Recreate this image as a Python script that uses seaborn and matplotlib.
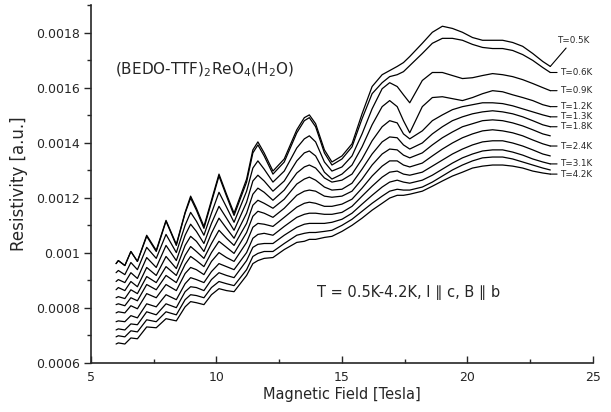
import matplotlib
matplotlib.use('Agg')
import matplotlib.pyplot as plt
import seaborn as sns
import pandas as pd
from matplotlib.ticker import FuncFormatter, MultipleLocator

# Magnetic field [Tesla] at which the curves were read
field = [6.0, 6.09, 6.35, 6.59, 6.85, 7.22, 7.6, 7.99, 8.4, 8.75, 8.97, 9.2, 9.5, 9.8, 10.1, 10.4, 10.7,
         11.2, 11.45, 11.65, 11.9, 12.25, 12.7, 13.2, 13.5, 13.7, 13.95, 14.3, 14.6,
         15.0, 15.4, 15.8, 16.2, 16.6, 16.9, 17.2, 17.45, 17.7, 18.2, 18.6, 19.0, 19.4, 19.8,
         20.2, 20.6, 21.0, 21.4, 21.8, 22.2, 22.6, 23.0, 23.3]

# Resistivity in units of 1e-6 a.u., one list per temperature (top to bottom)
rho_05 = [961, 972, 954, 1005, 969, 1064, 1009, 1118, 1031, 1147, 1206, 1162, 1096, 1191, 1286, 1213, 1144,
          1268, 1374, 1403, 1363, 1297, 1341, 1447, 1491, 1501, 1469, 1374, 1330,
          1352, 1396, 1505, 1604, 1647, 1662, 1677, 1691, 1713, 1761, 1801, 1823, 1815, 1801,
          1782, 1772, 1772, 1772, 1764, 1750, 1724, 1695, 1677]
rho_06 = [961, 972, 954, 1005, 969, 1060, 1005, 1115, 1027, 1144, 1199, 1155, 1089, 1184, 1279, 1206, 1136,
          1257, 1363, 1392, 1352, 1286, 1330, 1436, 1480, 1491, 1458, 1363, 1319,
          1341, 1385, 1487, 1578, 1618, 1640, 1647, 1658, 1680, 1724, 1761, 1779, 1779, 1772,
          1757, 1746, 1742, 1742, 1735, 1720, 1699, 1673, 1655]
rho_09 = [928, 936, 921, 965, 939, 1020, 980, 1067, 1001, 1100, 1147, 1115, 1064, 1144, 1220, 1166, 1111,
          1224, 1308, 1334, 1304, 1257, 1297, 1381, 1414, 1425, 1403, 1330, 1297,
          1312, 1352, 1432, 1523, 1596, 1618, 1604, 1574, 1545, 1626, 1655, 1655, 1644, 1633,
          1636, 1644, 1651, 1647, 1640, 1629, 1615, 1600, 1589]
rho_12 = [896, 903, 892, 928, 907, 983, 947, 1027, 972, 1064, 1104, 1078, 1034, 1107, 1169, 1126, 1082,
          1184, 1261, 1282, 1261, 1224, 1261, 1334, 1363, 1370, 1352, 1293, 1268,
          1286, 1319, 1385, 1465, 1531, 1553, 1531, 1480, 1436, 1531, 1564, 1567, 1560, 1553,
          1564, 1578, 1589, 1585, 1574, 1564, 1553, 1538, 1531]
rho_13 = [866, 874, 863, 896, 877, 947, 918, 987, 943, 1027, 1060, 1042, 1005, 1071, 1126, 1089, 1053,
          1144, 1213, 1235, 1220, 1191, 1228, 1290, 1312, 1319, 1308, 1272, 1257,
          1264, 1286, 1341, 1407, 1458, 1480, 1472, 1432, 1414, 1443, 1480, 1501, 1520, 1531,
          1538, 1545, 1545, 1542, 1534, 1523, 1512, 1501, 1494]
rho_18 = [837, 841, 834, 866, 852, 914, 892, 950, 918, 991, 1023, 1005, 980, 1034, 1082, 1053, 1027,
          1107, 1173, 1191, 1180, 1162, 1195, 1250, 1268, 1275, 1264, 1239, 1228,
          1231, 1253, 1304, 1359, 1403, 1421, 1418, 1392, 1377, 1399, 1432, 1458, 1480, 1494,
          1505, 1512, 1516, 1512, 1505, 1494, 1480, 1465, 1458]
rho_x1 = [812, 815, 808, 837, 826, 885, 866, 918, 892, 958, 987, 972, 950, 1001, 1042, 1020, 998,
          1074, 1133, 1151, 1144, 1129, 1162, 1209, 1224, 1228, 1224, 1206, 1202,
          1206, 1224, 1268, 1319, 1359, 1377, 1374, 1355, 1345, 1363, 1392, 1418, 1439, 1458,
          1469, 1480, 1483, 1480, 1472, 1461, 1447, 1432, 1425]
rho_24 = [782, 786, 782, 808, 797, 852, 837, 885, 863, 925, 947, 939, 921, 969, 1001, 983, 969,
          1038, 1093, 1107, 1104, 1096, 1129, 1166, 1180, 1184, 1180, 1169, 1169,
          1177, 1195, 1235, 1279, 1315, 1334, 1334, 1319, 1312, 1326, 1352, 1377, 1399, 1418,
          1432, 1443, 1447, 1443, 1436, 1425, 1410, 1396, 1388]
rho_x2 = [750, 753, 750, 772, 764, 815, 804, 848, 830, 888, 910, 903, 892, 932, 961, 950, 939,
          1001, 1053, 1067, 1071, 1064, 1096, 1129, 1140, 1144, 1144, 1140, 1140,
          1147, 1169, 1206, 1242, 1275, 1293, 1297, 1286, 1282, 1293, 1315, 1337, 1359, 1377,
          1392, 1403, 1407, 1407, 1399, 1388, 1374, 1359, 1352]
rho_31 = [720, 724, 720, 742, 739, 786, 775, 815, 801, 859, 877, 874, 863, 903, 928, 918, 910,
          972, 1020, 1031, 1034, 1034, 1064, 1093, 1104, 1107, 1107, 1107, 1111,
          1122, 1144, 1177, 1209, 1239, 1257, 1264, 1257, 1253, 1264, 1282, 1304, 1326, 1345,
          1359, 1370, 1374, 1374, 1366, 1355, 1341, 1330, 1323]
rho_x3 = [695, 699, 695, 717, 713, 757, 750, 786, 775, 830, 848, 845, 837, 874, 896, 888, 881,
          939, 987, 998, 1005, 1005, 1034, 1064, 1071, 1074, 1074, 1078, 1082,
          1100, 1122, 1151, 1180, 1206, 1224, 1231, 1228, 1228, 1239, 1257, 1279, 1301, 1319,
          1334, 1345, 1348, 1348, 1341, 1330, 1319, 1308, 1301]
rho_42 = [669, 673, 669, 691, 688, 731, 728, 761, 753, 804, 823, 819, 812, 848, 870, 863, 859,
          918, 961, 972, 980, 983, 1012, 1038, 1042, 1049, 1049, 1056, 1060,
          1078, 1100, 1126, 1155, 1180, 1199, 1209, 1209, 1213, 1224, 1242, 1261, 1279, 1293,
          1308, 1315, 1319, 1319, 1315, 1308, 1297, 1290, 1286]

# curve id -> (values, label at the right end or None)
curves = {
    'c05': (rho_05, 'T=0.5K'), 'c06': (rho_06, 'T=0.6K'), 'c09': (rho_09, 'T=0.9K'),
    'c12': (rho_12, 'T=1.2K'), 'c13': (rho_13, 'T=1.3K'), 'c18': (rho_18, 'T=1.8K'),
    'cx1': (rho_x1, None), 'c24': (rho_24, 'T=2.4K'), 'cx2': (rho_x2, None),
    'c31': (rho_31, 'T=3.1K'), 'cx3': (rho_x3, None), 'c42': (rho_42, 'T=4.2K'),
}

# long-form table for seaborn
frames = []
for cid, (vals, lab) in curves.items():
    frames.append(pd.DataFrame({'field': field, 'rho': [v * 1e-6 for v in vals], 'curve': cid}))
df = pd.concat(frames, ignore_index=True)

sns.set_style('ticks')
plt.rcParams['font.family'] = ['DejaVu Sans']

fig = plt.figure(figsize=(6.11, 4.12), dpi=100)
ax = fig.add_axes([0.1489, 0.1189, 0.8216, 0.8689])
sns.lineplot(data=df, x='field', y='rho', units='curve', estimator=None, color='black',
             linewidth=0.9, sort=False, ax=ax)

# labels with short leader lines at the right end of each curve
for cid, (vals, lab) in curves.items():
    if lab is None:
        continue
    y_end = vals[-1] * 1e-6
    if cid == 'c05':
        xy_txt = (23.55, y_end + 0.000095)
    else:
        xy_txt = (23.7, y_end)
    ax.annotate(lab, xy=(field[-1], y_end), xytext=xy_txt, fontsize=6.3, ha='left', va='center',
                arrowprops=dict(arrowstyle='-', lw=0.8, color='black', shrinkA=0, shrinkB=0))

ax.text(5.95, 0.001666, '(BEDO-TTF)$_2$ReO$_4$(H$_2$O)', fontsize=11, ha='left', va='center')
ax.text(14.0, 0.000855, 'T = 0.5K-4.2K, I \u2225 c, B \u2225 b', fontsize=10.5, ha='left', va='center')

ax.set_xlim(5, 25)
ax.set_ylim(0.0006, 0.0019)
ax.xaxis.set_major_locator(MultipleLocator(5))
ax.xaxis.set_minor_locator(MultipleLocator(2.5))
ax.yaxis.set_major_locator(MultipleLocator(0.0002))
ax.yaxis.set_minor_locator(MultipleLocator(0.0001))
ax.yaxis.set_major_formatter(FuncFormatter(lambda v, p: f'{v:g}'))
ax.tick_params(axis='x', which='both', direction='in', labelsize=9, pad=6, width=1)
ax.tick_params(axis='x', which='major', length=5)
ax.tick_params(axis='x', which='minor', length=3)
ax.tick_params(axis='y', which='both', direction='out', labelsize=9, pad=3, width=1)
ax.tick_params(axis='y', which='major', length=5)
ax.tick_params(axis='y', which='minor', length=3)
sns.despine(ax=ax)
for s in ['left', 'bottom']:
    ax.spines[s].set_linewidth(1.2)
ax.set_xlabel('Magnetic Field [Tesla]', fontsize=10.5, labelpad=2)
ax.set_ylabel('Resistivity [a.u.]', fontsize=12, labelpad=6)

fig.savefig('out.png', dpi=100)
